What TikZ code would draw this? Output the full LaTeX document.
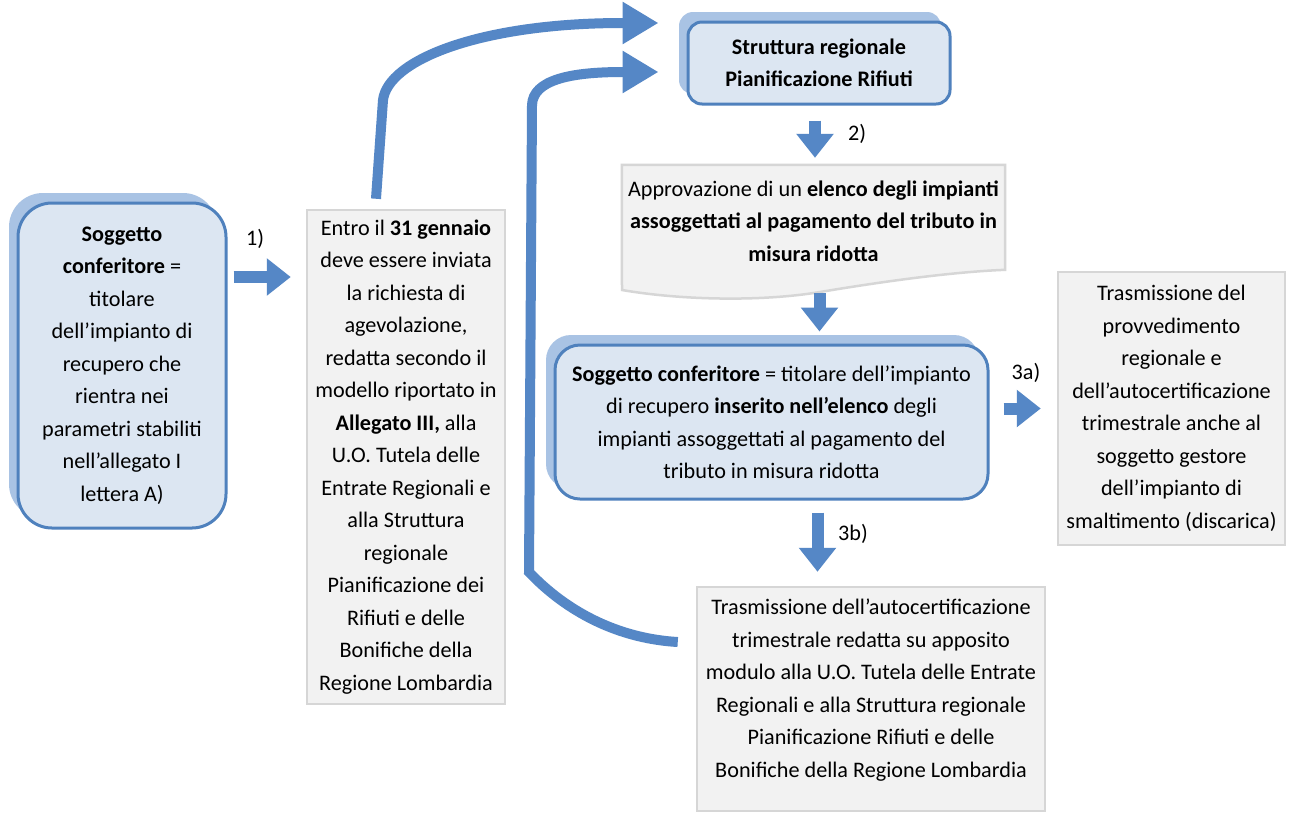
\documentclass[tikz,border=0pt]{standalone}
\usepackage{fontspec}
\setmainfont{Carlito}
\usetikzlibrary{arrows.meta,shadows,backgrounds,calc}
\definecolor{bfill}{HTML}{DCE6F2}
\definecolor{bdraw}{HTML}{4F81BD}
\definecolor{bback}{HTML}{A9C3E4}
\definecolor{arr}{HTML}{5587C6}
\definecolor{gfill}{HTML}{F2F2F2}
\definecolor{gdraw}{HTML}{D6D6D6}
\begin{document}
\begin{tikzpicture}[x=1pt,y=-1pt,
  font=\fontsize{22.2}{32.5}\selectfont,
  bluebox/.style={draw=bdraw, line width=3pt, fill=bfill, align=center, inner sep=0pt,
    general shadow={shadow xshift=-9pt, shadow yshift=10pt, fill=bback, draw=none}},
  graybox/.style={draw=gdraw, line width=2.5pt, fill=gfill, align=center, inner sep=0pt},
  blockarrow/.style={draw=arr, line width=12pt, -{Triangle[length=24pt,width=36pt]}},
  curvearrow/.style={draw=arr, line width=10pt, -{Triangle[length=36pt,width=40pt]}},
  lab/.style={inner sep=0pt}]
\useasboundingbox (0,0) rectangle (1290,815);

% boxes
\node[bluebox, rounded corners=34pt, minimum width=208pt, minimum height=325pt] (left) at (122,365.5)
  {\textbf{Soggetto}\\\textbf{conferitore} =\\titolare\\dell’impianto di\\recupero che\\rientra nei\\parametri stabiliti\\nell’allegato I\\lettera A)};

\node[graybox, minimum width=198pt, minimum height=494pt] (mid) at (406,457)
  {Entro il \textbf{31 gennaio}\\deve essere inviata\\la richiesta di\\agevolazione,\\redatta secondo il\\modello riportato in\\\textbf{Allegato III,} alla\\U.O. Tutela delle\\Entrate Regionali e\\alla Struttura\\regionale\\Pianificazione dei\\Rifiuti e delle\\Bonifiche della\\Regione Lombardia};

\node[bluebox, rounded corners=14pt, minimum width=262pt, minimum height=82pt] (top) at (819,63)
  {\textbf{Struttura regionale}\\\textbf{Pianificazione Rifiuti}};

\node[align=center, inner sep=0pt, minimum width=383pt, minimum height=112pt] (doc) at (813.5,221)
  {Approvazione di un \textbf{elenco degli impianti}\\\textbf{assoggettati al pagamento del tributo in}\\\textbf{misura ridotta}};
\begin{scope}[on background layer]
  \fill[white] (0,0) rectangle (1290,815);
  \draw[draw=gdraw, fill=gfill, line width=2.5pt]
    (doc.north west) -- (doc.north east) -- ++(0,105)
    .. controls (950,272) and (880,282) .. (820,292)
    .. controls (760,302) and (680,300) .. (622,290) -- cycle;
\end{scope}

\node[bluebox, rounded corners=25pt, minimum width=433pt, minimum height=154pt] (box2) at (771.5,422)
  {\textbf{Soggetto conferitore} = titolare dell’impianto\\di recupero \textbf{inserito nell’elenco} degli\\impianti assoggettati al pagamento del\\tributo in misura ridotta};

\node[graybox, minimum width=227pt, minimum height=273pt] (b3a) at (1171.5,408.5)
  {Trasmissione del\\provvedimento\\regionale e\\dell’autocertificazione\\trimestrale anche al\\soggetto gestore\\dell’impianto di\\smaltimento (discarica)};

\node[graybox, minimum width=348pt, minimum height=224pt] (b3b) at (871,699) {};
\node[align=center, inner sep=0pt] (b3btxt) at (871,690)
  {Trasmissione dell’autocertificazione\\trimestrale redatta su apposito\\modulo alla U.O. Tutela delle Entrate\\Regionali e alla Struttura regionale\\Pianificazione Rifiuti e delle\\Bonifiche della Regione Lombardia};

% labels
\node[lab] (l1) at (255,239) {1)};
\node[lab] (l2) at (857,134) {2)};
\node[lab] (l3a) at (1026,373) {3a)};
\node[lab] (l3b) at (853,534) {3b)};

% straight block arrows
\draw[blockarrow] ($(left.east |- 0,277)+(6,0)$) -- ($(mid.west |- 0,277)+(-15,0)$);
\draw[blockarrow] ($(top.south)+(-4,15)$) -- ($(top.south |- doc.north)+(-4,-7)$);
\draw[blockarrow] ($(doc.south)+(6,16)$) -- ($(doc.south |- box2.north)+(6,-12)$);
\draw[blockarrow] ($(box2.east |- b3a.west)+(14,0)$) -- ($(b3a.west)+(-16,0)$);
\draw[blockarrow] ($(box2.south)+(46,12)$) -- ($(box2.south |- b3b.north)+(46,-14)$);

% curved arrows
\draw[curvearrow] ($(mid.north)+(-30,-10)$) -- (383,100)
  .. controls (388,60) and (480,23) .. (623,23) -- ($(top.west)+(-28,-40)$);
\draw[curvearrow] ($(b3b.west)+(-18,-57)$)
  .. controls (610,638) and (560,605) .. (529,572) -- (532,105)
  .. controls (533,80) and (570,72) .. (623,72) -- ($(top.west)+(-28,9)$);
\end{tikzpicture}
\end{document}
